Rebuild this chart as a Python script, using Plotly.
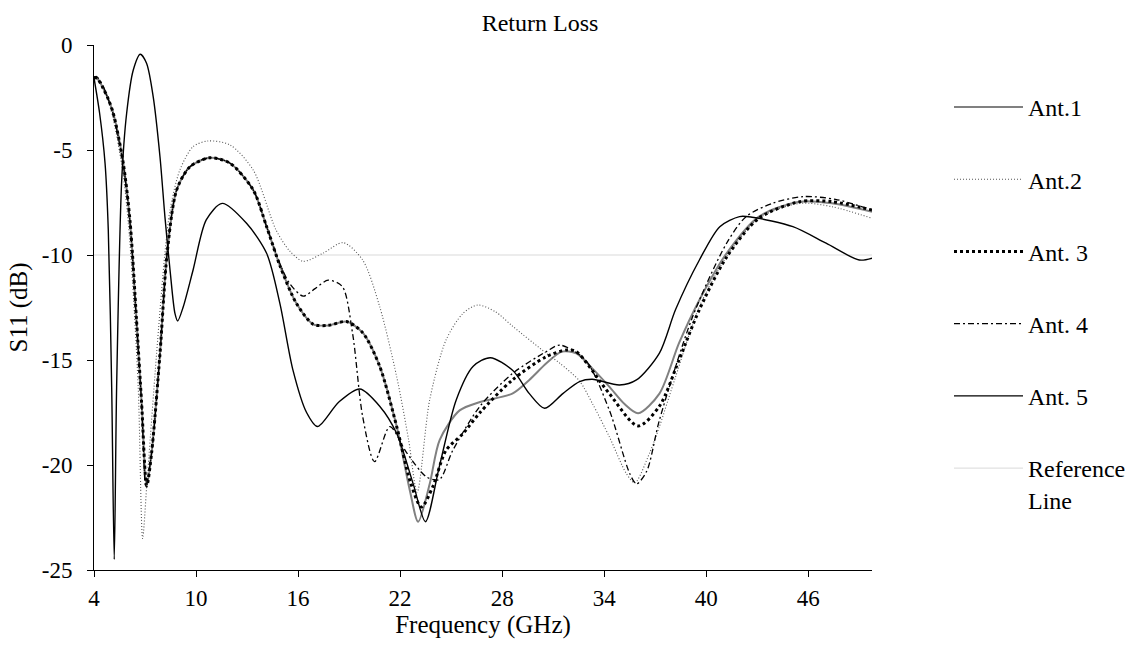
import plotly.graph_objects as go

# ---------------- data ----------------
x_ant1 = [4.0, 4.2, 4.5, 4.8, 5.13, 5.72, 6.12, 6.5, 6.8, 7.1, 7.39, 7.88, 8.3, 8.86, 9.64, 10.8,
          12.0, 13.36, 14.15, 14.93, 15.9, 16.9, 17.8, 18.84, 19.8, 20.8, 21.8, 22.57, 23.06, 23.74,
          24.33, 25.5, 26.7, 28.6, 29.6, 30.6, 31.5, 32.36, 33.3, 34.3, 35.2, 36.0, 37.25, 38.4,
          39.6, 41.2, 43.1, 45.5, 47.4, 49.75]
y_ant1 = [-1.55, -1.6, -2.0, -2.5, -3.24, -5.63, -8.4, -13.1, -17.06, -21.0, -19.4, -14.7, -9.92,
          -6.9, -5.8, -5.37, -5.63, -6.9, -8.65, -10.5, -12.3, -13.3, -13.35, -13.17, -13.7, -15.3,
          -18.17, -21.2, -22.7, -20.9, -18.8, -17.4, -17.0, -16.6, -15.95, -15.16, -14.6, -14.68,
          -15.4, -16.27, -17.1, -17.54, -16.6, -14.2, -12.14, -9.92, -8.17, -7.46, -7.54, -7.94]

x_ant2 = [4.0, 4.2, 4.5, 4.8, 5.13, 5.72, 6.12, 6.6, 6.86, 7.1, 7.68, 8.17, 8.47, 9.05, 9.83, 10.7,
          12.0, 13.36, 14.7, 15.5, 16.3, 17.5, 18.65, 19.8, 20.8, 21.8, 22.5, 23.0, 23.74, 24.7,
          25.7, 26.58, 27.6, 28.63, 30.6, 31.4, 32.55, 33.3, 34.3, 35.3, 35.8, 36.67, 37.25, 38.2,
          39.6, 41.2, 43.1, 45.5, 47.4, 49.75]
y_ant2 = [-1.5, -1.6, -2.0, -2.6, -3.5, -6.2, -9.5, -16.3, -23.5, -21.0, -14.7, -9.92, -7.86,
          -5.95, -4.84, -4.57, -4.76, -5.95, -8.8, -9.8, -10.3, -9.9, -9.41, -10.24, -12.46, -15.8,
          -18.8, -21.3, -16.9, -14.05, -12.78, -12.38, -12.7, -13.4, -14.68, -15.16, -16.0, -17.06,
          -18.65, -20.4, -20.85, -19.43, -18.17, -15.8, -12.46, -10.08, -8.25, -7.54, -7.7, -8.25]

x_ant3 = [4.0, 4.2, 4.5, 4.8, 5.13, 5.72, 6.12, 6.5, 6.8, 7.1, 7.39, 7.88, 8.3, 8.86, 9.64, 10.8,
          12.0, 13.36, 14.15, 14.93, 15.9, 16.9, 17.8, 18.84, 19.8, 20.8, 21.8, 22.6, 23.25, 23.94,
          24.7, 25.7, 26.7, 28.6, 30.6, 31.8, 32.36, 34.3, 36.0, 37.25, 38.4, 39.6, 41.2, 43.1,
          45.5, 47.4, 49.75]
y_ant3 = [-1.55, -1.6, -2.0, -2.5, -3.24, -5.63, -8.4, -13.1, -17.06, -21.0, -19.4, -14.7, -9.92,
          -6.9, -5.8, -5.37, -5.63, -6.9, -8.65, -10.5, -12.3, -13.3, -13.35, -13.17, -13.7, -15.3,
          -18.17, -20.8, -22.0, -21.0, -19.3, -18.5, -17.5, -15.95, -14.84, -14.52, -14.6, -16.6,
          -18.14, -17.2, -15.0, -12.6, -10.1, -8.25, -7.46, -7.46, -7.86]

x_ant4 = [4.0, 4.15, 4.5, 4.8, 5.13, 5.72, 6.12, 6.5, 6.8, 7.05, 7.39, 7.88, 8.3, 8.86, 9.64, 10.8,
          12.0, 13.36, 14.15, 14.93, 15.5, 16.3, 17.0, 17.77, 18.6, 19.2, 19.8, 20.5, 21.4, 22.37,
          23.54, 24.3, 25.1, 26.7, 28.63, 30.6, 31.4, 32.9, 34.3, 35.5, 35.9, 36.5, 37.25, 39.2,
          41.2, 42.35, 43.9, 45.7, 47.6, 49.75]
y_ant4 = [-1.55, -1.5, -1.9, -2.5, -3.3, -5.7, -8.5, -13.2, -17.1, -21.0, -19.4, -14.7, -9.92,
          -6.9, -5.8, -5.37, -5.63, -6.9, -8.65, -10.4, -11.35, -11.96, -11.6, -11.2, -11.5, -13.7,
          -17.7, -19.84, -18.17, -19.4, -20.56, -20.7, -19.3, -17.2, -15.63, -14.6, -14.29, -15.0,
          -17.38, -20.4, -20.9, -20.3, -17.86, -12.94, -9.44, -8.17, -7.54, -7.22, -7.35, -7.86]

x_ant5 = [4.0, 4.33, 4.65, 4.84, 5.04, 5.19, 5.33, 5.63, 5.92, 6.31, 6.72, 7.09, 7.48, 7.88, 8.17,
          8.47, 8.76, 8.92, 9.25, 9.83, 10.6, 11.54, 12.97, 14.15, 14.93, 15.7, 16.5, 17.14, 18.4,
          19.63, 20.8, 21.8, 22.77, 23.49, 24.3, 25.3, 26.3, 27.3, 28.63, 29.6, 30.5, 31.57, 32.55,
          33.3, 34.9, 35.9, 37.25, 38.2, 39.6, 40.8, 41.96, 42.7, 45.1, 47.05, 49.0, 49.75]
y_ant5 = [-1.57, -3.25, -5.63, -8.8, -16.3, -24.5, -16.3, -6.43, -3.25, -1.19, -0.44, -0.87, -2.46,
          -5.32, -8.17, -10.7, -12.78, -13.14, -12.46, -10.7, -8.33, -7.54, -8.49, -9.92, -12.3,
          -15.48, -17.5, -18.17, -17.0, -16.38, -17.2, -18.5, -20.9, -22.7, -20.1, -16.9, -15.3,
          -14.89, -15.5, -16.6, -17.3, -16.6, -16.03, -15.92, -16.19, -15.95, -14.67, -12.6, -10.24,
          -8.65, -8.17, -8.2, -8.65, -9.44, -10.24, -10.15]

x_ref = [4.0, 49.75]
y_ref = [-10.0, -10.0]

x_ticks = [4, 10, 16, 22, 28, 34, 40, 46]
y_ticks = [0, -5, -10, -15, -20, -25]
y_tick_text = ["0", "-5", "-10", "-15", "-20", "-25"]

names = ["Ant.1", "Ant.2", "Ant. 3", "Ant. 4", "Ant. 5"]

# ---------------- figure ----------------
FONT = "'Liberation Serif', 'Times New Roman', serif"
fig = go.Figure()

fig.add_trace(go.Scatter(x=x_ref, y=y_ref, mode="lines", name="Reference<br>Line",
                         line=dict(color="#d9d9d9", width=1), legendgroup="ref", legendrank=6))

styles = [
    dict(color="#808080", width=2, dash="solid"),
    dict(color="#555555", width=1.1, dash="1px,2px"),
    dict(color="#000000", width=3, dash="3px,3px"),
    dict(color="#000000", width=1.3, dash="6px,3px,2px,3px"),
    dict(color="#000000", width=1.4, dash="solid"),
]
xs = [x_ant1, x_ant2, x_ant3, x_ant4, x_ant5]
ys = [y_ant1, y_ant2, y_ant3, y_ant4, y_ant5]
for i, (nm, xv, yv, st) in enumerate(zip(names, xs, ys, styles)):
    fig.add_trace(go.Scatter(x=xv, y=yv, mode="lines", name=nm,
                             line=dict(shape="spline", smoothing=0.8, **st),
                             legendgroup=f"g{i}", legendrank=i + 1))

fig.update_layout(
    width=1132, height=647,
    margin=dict(l=94, r=260, t=45, b=77, autoexpand=False),
    paper_bgcolor="white", plot_bgcolor="white",
    font=dict(family=FONT, size=23, color="black"),
    title=dict(text="Return Loss", x=540 / 1132, xref="container", xanchor="center",
               y=1 - 23 / 647, yref="container", yanchor="middle",
               font=dict(family=FONT, size=24, color="black")),
    legend=dict(x=(949 - 94) / 778, xanchor="left", y=1 - 40 / 525, yanchor="top",
                tracegroupgap=38, valign="top", itemwidth=69, bgcolor="rgba(0,0,0,0)",
                font=dict(family=FONT, size=24, color="black")),
    showlegend=True,
)
fig.update_xaxes(range=[4, 49.75], tickvals=x_ticks, ticks="outside", ticklen=6,
                 tickcolor="black", showline=True, linecolor="black", linewidth=1,
                 showgrid=False, zeroline=False, ticklabelstandoff=1,
                 tickfont=dict(family=FONT, size=23, color="black"),
                 title=dict(text="Frequency (GHz)", standoff=0,
                            font=dict(family=FONT, size=25, color="black")))
fig.update_yaxes(range=[-25, 0], tickvals=y_ticks, ticktext=y_tick_text, ticks="outside",
                 ticklen=6, tickcolor="black", showline=True, linecolor="black", linewidth=1,
                 showgrid=False, zeroline=False, ticklabelstandoff=10,
                 tickfont=dict(family=FONT, size=23, color="black"),
                 title=dict(text="S11 (dB)", standoff=6,
                            font=dict(family=FONT, size=25, color="black")))

fig.write_html("out.html")
